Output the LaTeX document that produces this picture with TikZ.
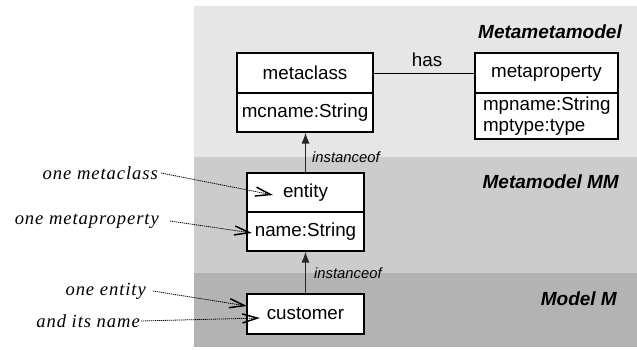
\documentclass[tikz,border=0pt]{standalone}
\usepackage{fontspec}
\setmainfont{Liberation Sans}
\newfontfamily\annfont[LetterSpace=5]{Liberation Serif}
\usetikzlibrary{arrows.meta}
\definecolor{bandA}{HTML}{E6E6E6}
\definecolor{bandB}{HTML}{CCCCCC}
\definecolor{bandC}{HTML}{B3B3B3}
\tikzset{
  cell/.style={draw=black, fill=white, line width=1.1pt, rectangle, inner sep=0pt,
    font=\fontsize{18.8}{20.7}\selectfont},
  layer/.style={anchor=east, inner sep=0pt, font=\fontsize{19}{22}\selectfont\bfseries\itshape},
  inst/.style={draw=black!85, line width=1.2pt, -{Latex[length=11pt,width=8pt]}},
  instlabel/.style={anchor=west, inner sep=0pt, font=\fontsize{14.8}{17}\selectfont\itshape},
  ann/.style={inner sep=0pt, font=\fontsize{18.6}{20}\selectfont\annfont\itshape},
  annarrow/.style={draw=black, line width=0.8pt, dash pattern=on 1.2pt off 0.8pt,
    -{Straight Barb[length=15pt,width=9pt,line width=1.5pt]}},
}
\begin{document}
\begin{tikzpicture}[x=1pt,y=-1pt]
\useasboundingbox (0,0) rectangle (637,349);
% layer bands
\fill[bandA] (194,6) rectangle (637,157);
\fill[bandB] (194,157) rectangle (637,273);
\fill[bandC] (194,273) rectangle (637,347);
\node[layer] (lmm) at (622,32) {Metametamodel};
\node[layer] (lm) at (619,182) {Metamodel MM};
\node[layer] (lmodel) at (617,299) {Model M};
% metaclass
\node[cell, minimum width=136pt, minimum height=40pt] (mc) at (305,73) {metaclass};
\node[cell, minimum width=136pt, minimum height=39pt] (mcattr) at (305,112.5) {mcname:String};
% metaproperty
\node[cell, minimum width=143pt, minimum height=40pt] (mp) at (546.5,73) {metaproperty};
\node[cell, minimum width=143pt, minimum height=46pt, text width=127pt, inner xsep=8pt, align=left] (mpattr) at (546.5,116) {mpname:String\\mptype:type};
% has
\draw[line width=1pt] (mc.east) -- (mp.west);
\node[inner sep=0pt, font=\fontsize{18.8}{21}\selectfont] (has) at (427,60) {has};
% entity
\node[cell, minimum width=117pt, minimum height=39pt] (ent) at (305.5,192.5) {entity};
\node[cell, minimum width=117pt, minimum height=39pt] (entattr) at (305.5,231.5) {name:String};
% customer
\node[cell, minimum width=117pt, minimum height=40pt] (cust) at (305.5,314) {customer};
% instanceof
\draw[inst] (ent.north) -- (ent.north |- mcattr.south);
\node[instlabel] (i1) at (312,157) {instanceof};
\draw[inst] (cust.north) -- (entattr.south);
\node[instlabel] (i2) at (314,273) {instanceof};
% annotations
\node[ann, anchor=east] (a1) at (158,173) {one metaclass};
\node[ann, anchor=east] (a2) at (159,221) {one metaproperty};
\node[ann, anchor=east] (a3) at (146,291) {one entity};
\node[ann, anchor=east] (a4) at (140,321) {and its name};
\coordinate (t1) at (273,195);
\coordinate (t2) at (252,233);
\coordinate (t3) at (247,306);
\coordinate (t4) at (260,318);
\draw[annarrow] ([xshift=3pt]a1.east) -- (t1);
\draw[annarrow] ([xshift=11pt]a2.east) -- (t2);
\draw[annarrow] ([xshift=7pt]a3.east) -- (t3);
\draw[annarrow] ([xshift=1pt]a4.east) -- (t4);
\end{tikzpicture}
\end{document}
